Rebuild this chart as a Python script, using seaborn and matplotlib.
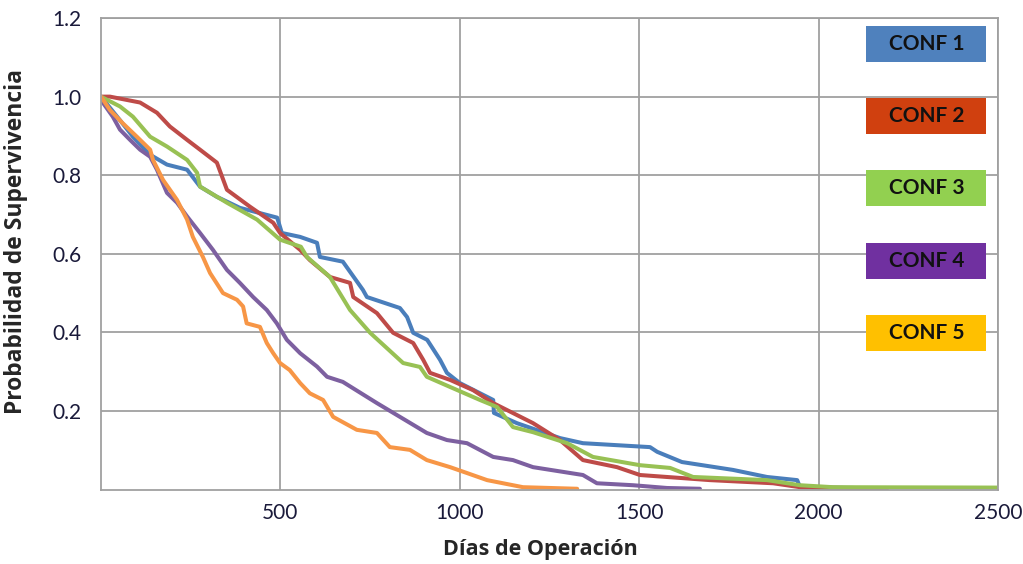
import pandas as pd
import matplotlib.pyplot as plt
import seaborn as sns
from matplotlib.patches import Rectangle

# curve values (dias, probabilidad)
conf1_dias = [0, 53, 89, 137, 184, 240, 276, 323, 387, 491, 504, 555, 602, 610, 674, 730, 741, 833, 853,
              870, 909, 945, 964, 1000, 1093, 1095, 1159, 1279, 1343, 1530, 1550, 1619, 1761, 1856, 1940,
              1948, 2100]
conf1_prob = [1.0, 0.94, 0.898, 0.852, 0.827, 0.814, 0.771, 0.745, 0.717, 0.692, 0.653, 0.643, 0.628, 0.592,
              0.580, 0.508, 0.490, 0.462, 0.439, 0.399, 0.381, 0.330, 0.297, 0.271, 0.228, 0.195, 0.169,
              0.131, 0.118, 0.108, 0.096, 0.070, 0.050, 0.032, 0.024, 0.006, 0.004]

conf2_dias = [0, 25, 109, 156, 192, 240, 276, 323, 351, 415, 480, 499, 555, 582, 638, 694, 703, 769, 814,
              870, 898, 917, 973, 1037, 1093, 1204, 1279, 1343, 1438, 1502, 1697, 1873, 1948, 2190]
conf2_prob = [1.0, 1.0, 0.985, 0.959, 0.924, 0.89, 0.865, 0.832, 0.763, 0.72, 0.679, 0.653, 0.61, 0.584,
              0.541, 0.526, 0.49, 0.449, 0.399, 0.373, 0.330, 0.297, 0.279, 0.253, 0.220, 0.169, 0.126,
              0.075, 0.057, 0.037, 0.024, 0.016, 0.006, 0.002]

conf3_dias = [0, 53, 89, 137, 184, 240, 268, 276, 351, 435, 499, 557, 574, 638, 694, 750, 842, 889, 908,
              973, 1056, 1104, 1148, 1204, 1299, 1371, 1502, 1586, 1650, 1856, 1948, 2040, 2500]
conf3_prob = [1.0, 0.975, 0.949, 0.898, 0.873, 0.839, 0.806, 0.771, 0.730, 0.687, 0.636, 0.618, 0.592,
              0.541, 0.457, 0.399, 0.322, 0.312, 0.287, 0.261, 0.228, 0.210, 0.159, 0.146, 0.118, 0.083,
              0.062, 0.055, 0.032, 0.024, 0.011, 0.006, 0.005]

conf4_dias = [0, 5, 33, 53, 81, 109, 137, 156, 184, 212, 240, 276, 312, 351, 387, 424, 462, 490, 518, 555,
              602, 630, 674, 769, 833, 908, 964, 1020, 1093, 1148, 1204, 1343, 1382, 1483, 1577, 1669]
conf4_prob = [1.0, 0.985, 0.949, 0.916, 0.890, 0.865, 0.847, 0.814, 0.755, 0.730, 0.695, 0.653, 0.610,
              0.559, 0.526, 0.490, 0.457, 0.423, 0.381, 0.347, 0.313, 0.287, 0.274, 0.220, 0.185, 0.144,
              0.126, 0.118, 0.083, 0.075, 0.057, 0.037, 0.016, 0.011, 0.004, 0.002]

conf5_dias = [0, 25, 61, 100, 137, 145, 173, 212, 240, 256, 284, 304, 340, 379, 396, 406, 443, 462, 480,
              499, 526, 555, 582, 619, 647, 713, 769, 805, 861, 908, 973, 1020, 1076, 1176, 1327]
conf5_prob = [1.0, 0.966, 0.932, 0.898, 0.865, 0.839, 0.788, 0.737, 0.687, 0.643, 0.592, 0.551, 0.500,
              0.483, 0.466, 0.423, 0.414, 0.373, 0.347, 0.322, 0.304, 0.271, 0.245, 0.228, 0.185, 0.152,
              0.144, 0.108, 0.101, 0.075, 0.057, 0.042, 0.024, 0.006, 0.002]

series_names = ['CONF 1', 'CONF 2', 'CONF 3', 'CONF 4', 'CONF 5']
line_colors = ['#4a7ebb', '#be4b48', '#98c154', '#7d60a0', '#f79646']
box_colors = ['#4f81bd', '#d0400f', '#92d050', '#7030a0', '#ffc000']
x_ticks = [500, 1000, 1500, 2000, 2500]
y_ticks = [0.2, 0.4, 0.6, 0.8, 1.0, 1.2]

#%%
all_dias = [conf1_dias, conf2_dias, conf3_dias, conf4_dias, conf5_dias]
all_prob = [conf1_prob, conf2_prob, conf3_prob, conf4_prob, conf5_prob]
df = pd.concat([pd.DataFrame({'dias': d, 'prob': p, 'conf': n})
                for d, p, n in zip(all_dias, all_prob, series_names)], ignore_index=True)

#%%
sns.set_style('white')
plt.rcParams['font.family'] = ['Lato', 'DejaVu Sans']

fig = plt.figure(figsize=(10.23, 5.64), dpi=100)
ax = fig.add_axes([0.0987, 0.132, 0.877, 0.836])

sns.lineplot(data=df, x='dias', y='prob', hue='conf', palette=line_colors,
             estimator=None, sort=False, linewidth=2.9, legend=False, ax=ax)

ax.set_xlim(0, 2500)
ax.set_ylim(0, 1.2)
ax.set_xticks(x_ticks)
ax.set_yticks(y_ticks)
ax.set_yticklabels([f'{v:.1f}' for v in y_ticks])
ax.grid(True, color='#a0a0a0', linewidth=1.3)
ax.set_axisbelow(True)
for s in ax.spines.values():
    s.set_color('#a0a0a0')
    s.set_linewidth(1.3)
ax.tick_params(length=0, labelsize=15, labelcolor='#1a1a3a')
ax.tick_params(axis='x', pad=10)
ax.tick_params(axis='y', pad=14)

ax.set_xlabel('Días de Operación', fontsize=15.5, fontweight='bold',
              family=['Open Sans', 'DejaVu Sans'])
ax.set_ylabel('Probabilidad de Supervivencia', fontsize=16.5, fontweight='bold',
              family=['Open Sans', 'DejaVu Sans'])
ax.xaxis.set_label_coords(0.49, -0.105)
ax.yaxis.set_label_coords(-0.081, 0.527)

# colored label boxes on the right
box_y = [0.945, 0.792, 0.639, 0.485, 0.332]
for name, c, yc in zip(series_names, box_colors, box_y):
    ax.add_patch(Rectangle((0.853, yc - 0.038), 0.134, 0.076, transform=ax.transAxes,
                           facecolor=c, edgecolor='none', zorder=5))
    ax.text(0.92, yc, name, transform=ax.transAxes, ha='center', va='center',
            fontsize=15, fontweight='bold', color='#111111', zorder=6)

fig.savefig('out.png', dpi=100)
